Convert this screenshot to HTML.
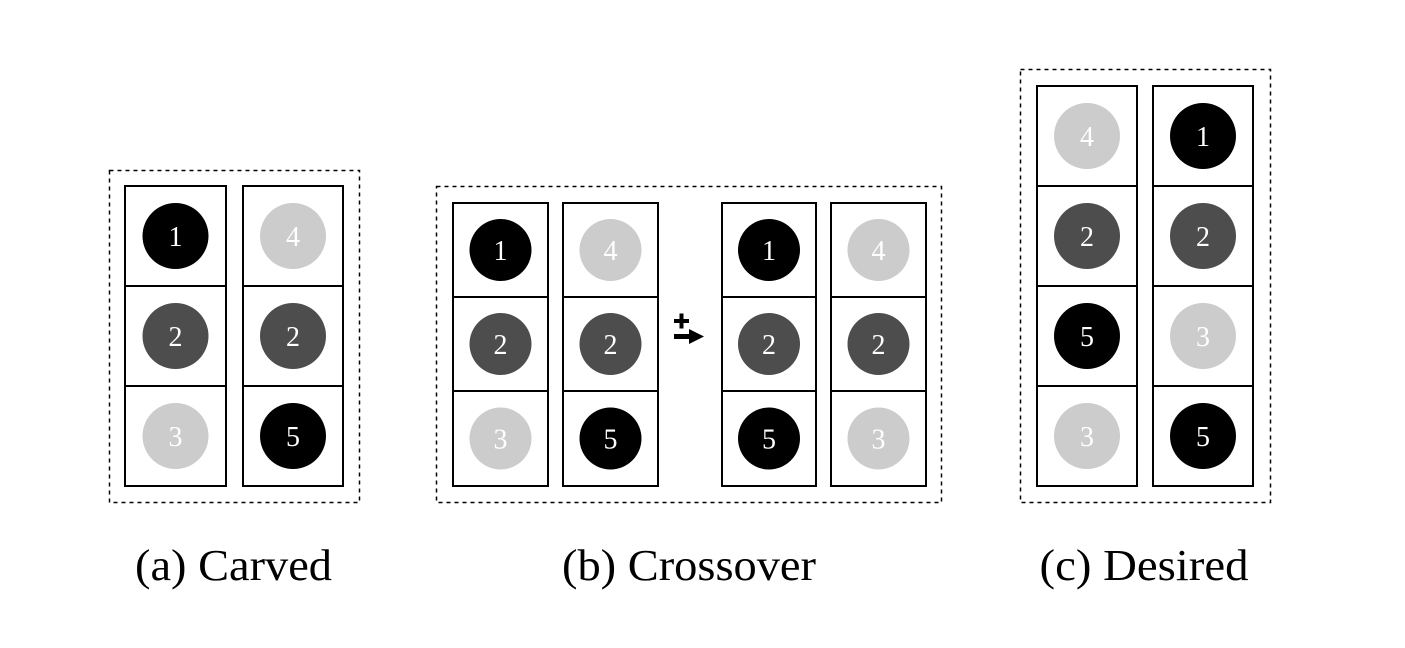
<!DOCTYPE html>
<html><head><meta charset="utf-8"><style>
html,body{margin:0;padding:0;background:#fff;}
svg{display:block}
text{font-family:"Liberation Serif",serif;}
</style></head><body>
<svg width="1405" height="648" viewBox="0 0 1405 648" xmlns="http://www.w3.org/2000/svg">
<g fill="none" stroke="#000" stroke-width="1.5" stroke-dasharray="4,4">
<rect x="109.5" y="170.5" width="250" height="332"/>
<rect x="436.5" y="186.5" width="505" height="316"/>
<rect x="1020.5" y="69.5" width="250" height="433"/>
</g>
<g fill="none" stroke="#000" stroke-width="2">
<!-- a -->
<rect x="125" y="186" width="101" height="100"/><rect x="125" y="286" width="101" height="100"/><rect x="125" y="386" width="101" height="100"/>
<rect x="243" y="186" width="100" height="100"/><rect x="243" y="286" width="100" height="100"/><rect x="243" y="386" width="100" height="100"/>
<!-- b -->
<rect x="453" y="203" width="95" height="94"/><rect x="453" y="297" width="95" height="94"/><rect x="453" y="391" width="95" height="95"/>
<rect x="563" y="203" width="95" height="94"/><rect x="563" y="297" width="95" height="94"/><rect x="563" y="391" width="95" height="95"/>
<rect x="722" y="203" width="94" height="94"/><rect x="722" y="297" width="94" height="94"/><rect x="722" y="391" width="94" height="95"/>
<rect x="831" y="203" width="95" height="94"/><rect x="831" y="297" width="95" height="94"/><rect x="831" y="391" width="95" height="95"/>
<!-- c -->
<rect x="1037" y="86" width="100" height="100"/><rect x="1037" y="186" width="100" height="100"/><rect x="1037" y="286" width="100" height="100"/><rect x="1037" y="386" width="100" height="100"/>
<rect x="1153" y="86" width="100" height="100"/><rect x="1153" y="186" width="100" height="100"/><rect x="1153" y="286" width="100" height="100"/><rect x="1153" y="386" width="100" height="100"/>
</g>
<g>
<circle cx="175.5" cy="236" r="33" fill="#000"/><circle cx="293" cy="236" r="33" fill="#ccc"/>
<circle cx="175.5" cy="336" r="33" fill="#4d4d4d"/><circle cx="293" cy="336" r="33" fill="#4d4d4d"/>
<circle cx="175.5" cy="436" r="33" fill="#ccc"/><circle cx="293" cy="436" r="33" fill="#000"/>

<circle cx="500.5" cy="250" r="31" fill="#000"/><circle cx="610.5" cy="250" r="31" fill="#ccc"/>
<circle cx="500.5" cy="344" r="31" fill="#4d4d4d"/><circle cx="610.5" cy="344" r="31" fill="#4d4d4d"/>
<circle cx="500.5" cy="438.5" r="31" fill="#ccc"/><circle cx="610.5" cy="438.5" r="31" fill="#000"/>
<circle cx="769" cy="250" r="31" fill="#000"/><circle cx="878.5" cy="250" r="31" fill="#ccc"/>
<circle cx="769" cy="344" r="31" fill="#4d4d4d"/><circle cx="878.5" cy="344" r="31" fill="#4d4d4d"/>
<circle cx="769" cy="438.5" r="31" fill="#000"/><circle cx="878.5" cy="438.5" r="31" fill="#ccc"/>

<circle cx="1087" cy="136" r="33" fill="#ccc"/><circle cx="1203" cy="136" r="33" fill="#000"/>
<circle cx="1087" cy="236" r="33" fill="#4d4d4d"/><circle cx="1203" cy="236" r="33" fill="#4d4d4d"/>
<circle cx="1087" cy="336" r="33" fill="#000"/><circle cx="1203" cy="336" r="33" fill="#ccc"/>
<circle cx="1087" cy="436" r="33" fill="#ccc"/><circle cx="1203" cy="436" r="33" fill="#000"/>
</g>
<g fill="#fff" font-size="28" text-anchor="middle">
<text x="175.5" y="246">1</text><text x="293" y="246">4</text>
<text x="175.5" y="346">2</text><text x="293" y="346">2</text>
<text x="175.5" y="446">3</text><text x="293" y="446">5</text>
<text x="500.5" y="260">1</text><text x="610.5" y="260">4</text>
<text x="500.5" y="354">2</text><text x="610.5" y="354">2</text>
<text x="500.5" y="448.5">3</text><text x="610.5" y="448.5">5</text>
<text x="769" y="260">1</text><text x="878.5" y="260">4</text>
<text x="769" y="354">2</text><text x="878.5" y="354">2</text>
<text x="769" y="448.5">5</text><text x="878.5" y="448.5">3</text>
<text x="1087" y="146">4</text><text x="1203" y="146">1</text>
<text x="1087" y="246">2</text><text x="1203" y="246">2</text>
<text x="1087" y="346">5</text><text x="1203" y="346">3</text>
<text x="1087" y="446">3</text><text x="1203" y="446">5</text>
</g>
<!-- crossover icon -->
<g fill="#000">
<rect x="674" y="319" width="15" height="4"/>
<rect x="679.5" y="313.5" width="4" height="15"/>
<rect x="674" y="334" width="16" height="5"/>
<polygon points="689,329 704,336.5 689,344"/>
</g>
<g fill="#000" font-size="44" text-anchor="middle">
<text x="233.5" y="580" textLength="197" lengthAdjust="spacingAndGlyphs">(a) Carved</text>
<text x="689" y="580" textLength="254" lengthAdjust="spacingAndGlyphs">(b) Crossover</text>
<text x="1144" y="580" textLength="209" lengthAdjust="spacingAndGlyphs">(c) Desired</text>
</g>
</svg>
</body></html>
